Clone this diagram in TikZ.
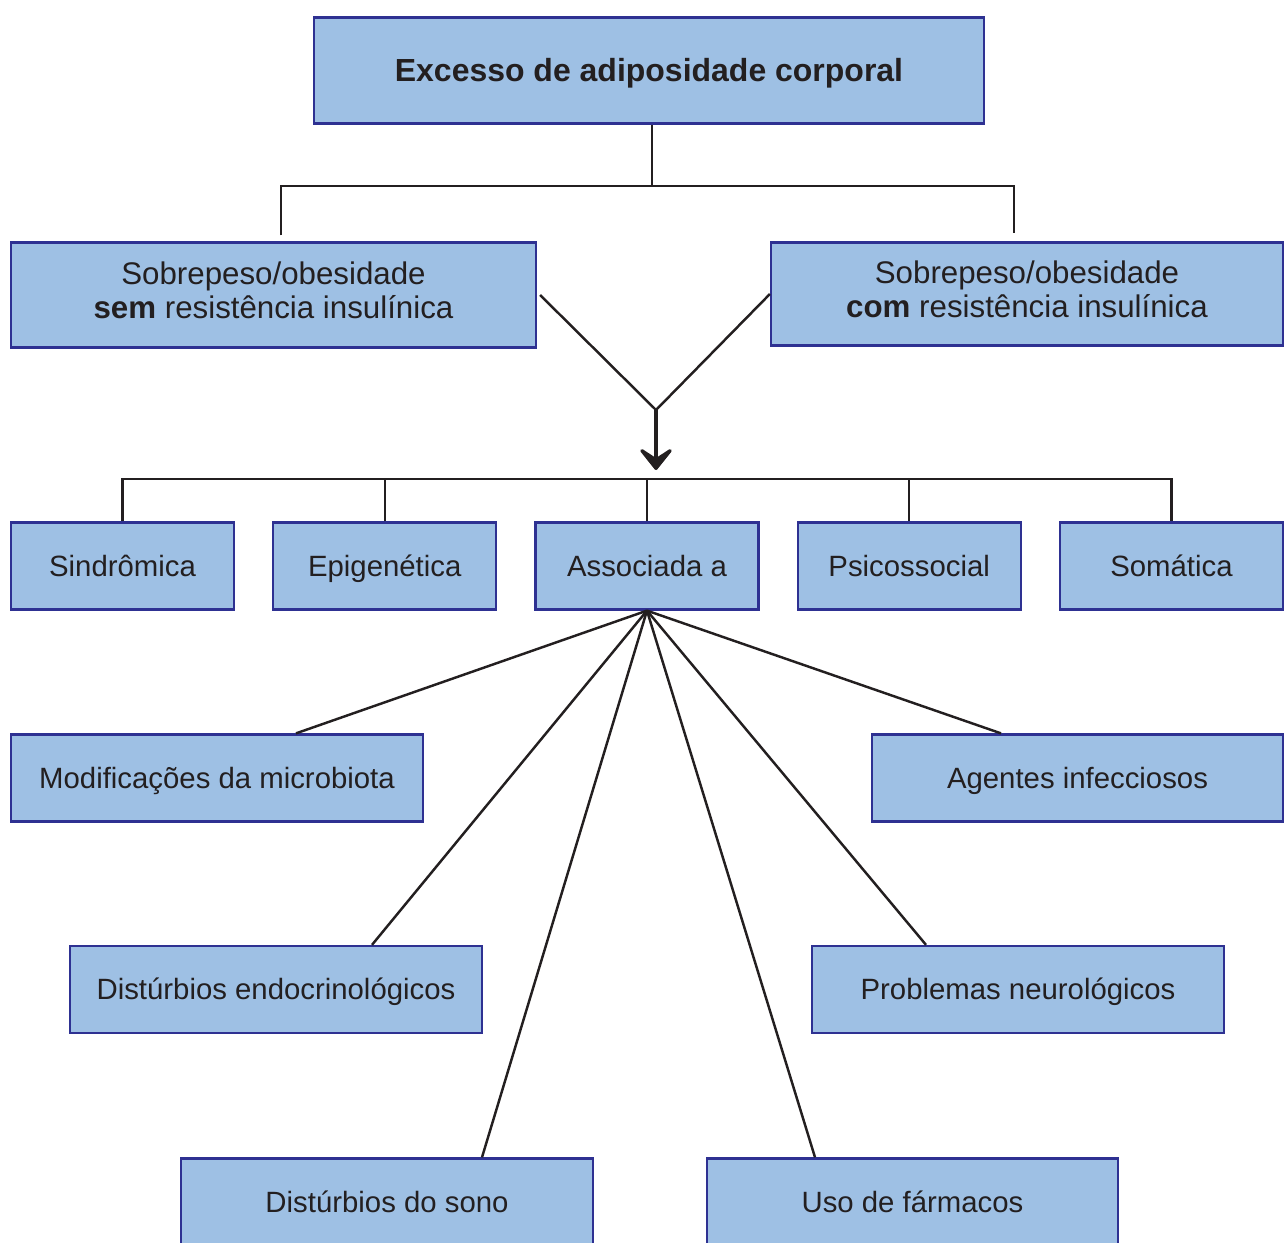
\documentclass[tikz,border=0pt]{standalone}
\usepackage{fontspec}
\setmainfont{Liberation Sans}
\usetikzlibrary{positioning,arrows.meta}
\definecolor{boxfill}{RGB}{158,192,228}
\definecolor{boxline}{RGB}{46,49,146}
\definecolor{ink}{RGB}{35,31,32}
\begin{document}
\begin{tikzpicture}[x=0.02cm, y=-0.02cm, node distance={7.4mm}, color=ink, line width=1.4pt, main/.style = {draw=boxline, fill=boxfill, line width=1.3pt, inner sep=0pt, align=center, text=ink, font=\fontsize{16.7}{19}\selectfont}, small/.style = {main, minimum width=44.6mm, minimum height=17.4mm, text height=12pt, text depth=0.6pt}, wide/.style = {main, minimum width=82.3mm, minimum height=17.4mm, text height=12pt, text depth=0.6pt}, big/.style = {main, font=\fontsize{17.8}{19.3}\selectfont}, bigarrow/.style = {line width=2.8pt, -{Stealth[length=5.4mm, width=8.6mm, inset=2.8mm, round]}}]
\useasboundingbox (0,0) rectangle (1287,1243);
\clip (0,0) rectangle (1287,1243);

\node[big, font=\fontsize{18.2}{20}\selectfont, minimum width=133.9mm, minimum height=21.2mm, text height=13pt, text depth=0pt] (1) at (649,70.5) {\bfseries Excesso de adiposidade corporal};
\node[big, minimum width=105mm, minimum height=21mm, text height=32.3pt, text depth=5.6pt] (2) at (273.5,295) {Sobrepeso/obesidade\\\textbf{sem} resistência insulínica};
\node[big, minimum width=102.4mm, minimum height=20.6mm, text height=32.3pt, text depth=5.6pt] (3) at (1027,294) {Sobrepeso/obesidade\\\textbf{com} resistência insulínica};
\node[small] (4) at (122.5,566) {Sindrômica};
\node[small] (5) [right=of 4] {Epigenética};
\node[small] (6) [right=of 5] {Associada a};
\node[small] (7) [right=of 6] {Psicossocial};
\node[small] (8) [right=of 7] {Somática};
\node[wide] (9)  at (217,778) {Modificações da microbiota};
\node[wide] (10) at (1077.5,778) {Agentes infecciosos};
\node[wide] (11) at (276,989.5) {Distúrbios endocrinológicos};
\node[wide] (12) at (1018,989.5) {Problemas neurológicos};
\node[wide] (13) at (387,1202) {Distúrbios do sono};
\node[wide] (14) at (912.5,1202) {Uso de fármacos};

\coordinate (t) at (652,186);
\coordinate (v) at (656,410);
\coordinate (b) at (656,479);

\draw (1.south -| t) -- (t);
\draw ([xshift=1.5mm,yshift=1.2mm]2.north) |- (t) -| ([xshift=-2.6mm,yshift=1.6mm]3.north);
\draw ([xshift=0.6mm]2.east) -- (v);
\draw (3.west) -- (v);
\draw[bigarrow] (v) -- ([yshift=1.8mm]v |- b);
\draw (4) |- (b) -| (8);
\draw (5) -- (5 |- b);
\draw (6) -- (6 |- b);
\draw (7) -- (7 |- b);
\draw (6.south) -- ([xshift=15.8mm]9.north);
\draw (6.south) -- ([xshift=-15.3mm]10.north);
\draw (6.south) -- ([xshift=19.2mm]11.north);
\draw (6.south) -- ([xshift=-18.4mm]12.north);
\draw (6.south) -- ([xshift=19mm]13.north);
\draw (6.south) -- ([xshift=-19.5mm]14.north);

\end{tikzpicture}
\end{document}
